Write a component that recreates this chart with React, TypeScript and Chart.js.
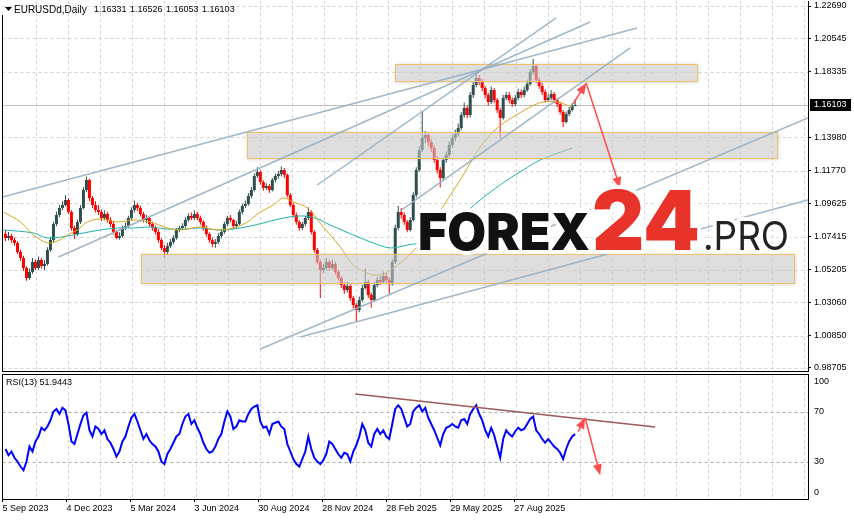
import React, { useEffect, useRef } from 'react';
import { Chart, registerables } from 'chart.js';

Chart.register(...registerables);

// ---------------- data ----------------
// one candle per 3 trading days; x unit = 1 trading day
const BAR_STEP = 3;
const FIRST_OPEN = 1.0760;
const CLOSE = [
  1.0732,1.0745,1.0719,1.0699,1.0639,1.0599,1.0533,1.0467,1.0507,1.0573,
  1.0533,1.0586,1.0546,1.0560,1.0652,1.0719,1.0825,1.0884,1.0931,1.0951,
  1.0984,1.0904,1.0798,1.0758,1.0838,1.0931,1.1050,1.1116,1.0997,1.0951,
  1.0917,1.0904,1.0864,1.0891,1.0851,1.0825,1.0772,1.0732,1.0745,1.0798,
  1.0811,1.0864,1.0917,1.0951,1.0931,1.0891,1.0851,1.0864,1.0825,1.0798,
  1.0772,1.0719,1.0666,1.0639,1.0679,1.0705,1.0732,1.0785,1.0798,1.0811,
  1.0851,1.0878,1.0864,1.0891,1.0864,1.0838,1.0798,1.0758,1.0719,1.0692,
  1.0705,1.0745,1.0772,1.0825,1.0864,1.0851,1.0811,1.0825,1.0904,1.0944,
  1.0957,1.1010,1.1050,1.1143,1.1169,1.1103,1.1063,1.1076,1.1050,1.1116,
  1.1143,1.1156,1.1182,1.1149,1.1017,1.0951,1.0884,1.0838,1.0798,1.0825,
  1.0864,1.0904,1.0772,1.0652,1.0573,1.0520,1.0533,1.0573,1.0533,1.0560,
  1.0507,1.0467,1.0420,1.0387,1.0414,1.0334,1.0288,1.0255,1.0321,1.0401,
  1.0440,1.0354,1.0321,1.0420,1.0454,1.0440,1.0480,1.0454,1.0427,1.0573,
  1.0798,1.0904,1.0884,1.0838,1.0785,1.0851,1.1017,1.1182,1.1315,1.1394,
  1.1414,1.1368,1.1328,1.1249,1.1182,1.1129,1.1249,1.1282,1.1348,1.1394,
  1.1421,1.1461,1.1547,1.1593,1.1547,1.1679,1.1746,1.1792,1.1766,1.1726,
  1.1679,1.1633,1.1713,1.1646,1.1580,1.1527,1.1660,1.1679,1.1646,1.1620,
  1.1660,1.1699,1.1679,1.1713,1.1752,1.1832,1.1872,1.1779,1.1739,1.1699,
  1.1646,1.1660,1.1686,1.1646,1.1620,1.1567,1.1500,1.1553,1.1580,1.1606,
  1.1610,
];
const HIGH = [
  1.0785,1.0772,1.0760,1.0735,1.0710,1.0655,1.0615,1.0545,1.0530,1.0600,
  1.0590,1.0610,1.0600,1.0585,1.0670,1.0740,1.0840,1.0905,1.0950,1.0975,
  1.1017,1.0995,1.0915,1.0815,1.0855,1.0950,1.1070,1.1139,1.1125,1.1010,
  1.0975,1.0950,1.0920,1.0915,1.0905,1.0870,1.0840,1.0785,1.0770,1.0815,
  1.0835,1.0880,1.0935,1.0980,1.0965,1.0945,1.0905,1.0885,1.0880,1.0840,
  1.0815,1.0790,1.0730,1.0685,1.0700,1.0725,1.0750,1.0800,1.0815,1.0830,
  1.0870,1.0895,1.0900,1.0915,1.0905,1.0880,1.0850,1.0815,1.0770,1.0735,
  1.0725,1.0765,1.0790,1.0840,1.0880,1.0885,1.0860,1.0845,1.0920,1.0960,
  1.0980,1.1030,1.1070,1.1160,1.1200,1.1180,1.1115,1.1095,1.1090,1.1130,
  1.1160,1.1175,1.1205,1.1195,1.1160,1.1030,1.0965,1.0900,1.0850,1.0840,
  1.0880,1.0935,1.0915,1.0785,1.0665,1.0590,1.0560,1.0600,1.0590,1.0590,
  1.0575,1.0520,1.0480,1.0440,1.0440,1.0425,1.0350,1.0300,1.0345,1.0420,
  1.0530,1.0455,1.0370,1.0440,1.0475,1.0480,1.0510,1.0500,1.0470,1.0590,
  1.0820,1.0945,1.0930,1.0900,1.0850,1.0870,1.1035,1.1200,1.1340,1.1573,
  1.1440,1.1430,1.1390,1.1345,1.1270,1.1200,1.1265,1.1305,1.1370,1.1415,
  1.1450,1.1490,1.1565,1.1630,1.1610,1.1700,1.1765,1.1830,1.1810,1.1785,
  1.1740,1.1695,1.1735,1.1725,1.1660,1.1595,1.1680,1.1700,1.1700,1.1665,
  1.1680,1.1720,1.1715,1.1735,1.1780,1.1850,1.1918,1.1885,1.1795,1.1760,
  1.1715,1.1685,1.1710,1.1700,1.1660,1.1635,1.1580,1.1570,1.1600,1.1625,
  1.1653,
];
const LOW = [
  1.0712,1.0715,1.0700,1.0680,1.0625,1.0580,1.0515,1.0448,1.0455,1.0495,
  1.0520,1.0520,1.0530,1.0520,1.0550,1.0640,1.0705,1.0810,1.0870,1.0915,
  1.0940,1.0890,1.0780,1.0724,1.0745,1.0825,1.0920,1.1035,1.0975,1.0930,
  1.0900,1.0885,1.0845,1.0850,1.0835,1.0805,1.0755,1.0723,1.0720,1.0735,
  1.0785,1.0800,1.0850,1.0900,1.0910,1.0875,1.0835,1.0830,1.0810,1.0780,
  1.0755,1.0700,1.0650,1.0601,1.0620,1.0665,1.0690,1.0720,1.0770,1.0785,
  1.0800,1.0840,1.0850,1.0850,1.0850,1.0820,1.0780,1.0740,1.0700,1.0670,
  1.0668,1.0690,1.0730,1.0760,1.0810,1.0835,1.0795,1.0795,1.0815,1.0890,
  1.0930,1.0945,1.0995,1.1040,1.1130,1.1085,1.1045,1.1050,1.1030,1.1040,
  1.1100,1.1125,1.1140,1.1130,1.1000,1.0935,1.0870,1.0820,1.0780,1.0785,
  1.0810,1.0850,1.0755,1.0635,1.0560,1.0335,1.0500,1.0515,1.0515,1.0520,
  1.0490,1.0450,1.0400,1.0360,1.0370,1.0315,1.0265,1.0178,1.0240,1.0310,
  1.0390,1.0335,1.0270,1.0310,1.0405,1.0420,1.0430,1.0435,1.0360,1.0415,
  1.0560,1.0785,1.0860,1.0820,1.0770,1.0775,1.0840,1.1000,1.1170,1.1300,
  1.1360,1.1340,1.1300,1.1230,1.1160,1.1066,1.1115,1.1230,1.1265,1.1330,
  1.1375,1.1405,1.1445,1.1530,1.1525,1.1530,1.1660,1.1730,1.1745,1.1705,
  1.1660,1.1610,1.1620,1.1625,1.1560,1.1392,1.1515,1.1645,1.1625,1.1600,
  1.1605,1.1645,1.1660,1.1665,1.1700,1.1740,1.1815,1.1760,1.1720,1.1680,
  1.1630,1.1635,1.1645,1.1625,1.1600,1.1550,1.1468,1.1490,1.1540,1.1570,
  1.1605,
];
const RSI = [
  40,35,38,33,30,26,23,30,42,38,
  46,50,57,55,58,63,70,72,68,73,
  71,60,46,44,52,60,67,69,55,50,
  58,56,52,55,48,45,40,34,38,46,
  50,58,65,68,62,55,48,52,47,44,
  42,38,30,28,36,40,45,50,52,60,
  66,68,60,63,57,52,45,40,37,38,
  42,48,52,62,70,66,56,58,63,62,
  62,68,72,74,75,62,57,58,52,60,
  61,62,58,56,44,38,32,28,26,32,
  38,50,40,33,30,28,31,36,46,44,
  40,36,33,37,36,30,38,43,50,60,
  55,45,42,52,56,52,55,50,48,60,
  72,75,72,65,58,60,70,73,75,70,
  73,65,60,55,49,43,52,57,58,60,
  58,57,63,64,60,68,72,75,68,63,
  55,50,57,51,42,33,48,55,52,50,
  54,57,55,56,60,64,66,55,52,48,
  45,48,45,42,40,37,32,40,46,50,
  51.9,
];
const MA_FAST_X = [1,18,31,45,55,65,75,85,98,115,131,148,165,178,198,215,231,245,258,271,281,291,305,321,338,351,365,378,391,405,418,431,445,458,468,478,495,511,528,541,555,570];
const MA_FAST = [1.0904,1.0838,1.0752,1.0699,1.0712,1.0752,1.0785,1.0838,1.0858,1.0838,1.0851,1.0838,1.0798,1.0785,1.0805,1.0785,1.0798,1.0838,1.0904,1.0950,1.0997,1.0970,1.0931,1.0805,1.0672,1.0553,1.0500,1.0487,1.0533,1.0606,1.0699,1.0838,1.0984,1.1116,1.1229,1.1335,1.1461,1.1534,1.1600,1.1633,1.1633,1.1600];
const MA_SLOW_X = [1,31,45,65,81,98,115,131,148,165,181,198,215,231,248,265,281,298,313,328,351,371,388,405,421,435,455,478,505,521,538,570];
const MA_SLOW = [1.0785,1.0765,1.0732,1.0745,1.0765,1.0785,1.0798,1.0798,1.0805,1.0791,1.0791,1.0798,1.0785,1.0791,1.0811,1.0838,1.0864,1.0878,1.0864,1.0818,1.0752,1.0699,1.0666,1.0685,1.0705,1.0752,1.0851,1.0984,1.1116,1.1182,1.1249,1.1328];

const PRICE_TICKS = [1.2269, 1.20545, 1.18335, 1.1398, 1.1177, 1.09625, 1.07415, 1.05205, 1.0306, 1.0085, 0.98705];
const DATE_LABELS = ['5 Sep 2023', '4 Dec 2023', '5 Mar 2024', '3 Jun 2024', '30 Aug 2024', '28 Nov 2024', '28 Feb 2025', '29 May 2025', '27 Aug 2025'];
const DATE_TICK_STEP = 64;
const GRID_START = 2;
const GRID_STEP = 32;
const X_MAX = 806;
const Y_MIN = 0.98572;
const Y_MAX = 1.23022;
const LAST_PRICE = 1.16103;
const HEADER_SYMBOL = 'EURUSDd,Daily';
const HEADER_OHLC = ['1.16331', '1.16526', '1.16053', '1.16103'];
const RSI_TEXT = 'RSI(13) 51.9443';
const RSI_LEVELS = [70, 30];
const RSI_TICK_VALUES = [93.6, 70, 30, 5.2];
const RSI_AXIS_LABELS = ['100', '70', '30', '0'];
// zones: [xStart, xEnd, priceTop, priceBottom]
const ZONES = [
  [393, 695, 1.1885, 1.1772],
  [245, 775, 1.1434, 1.1262],
  [139, 792, 1.0626, 1.0434],
];
// trend lines: [x0, price0, x1, price1]
const TREND_LINES = [
  [0, 1.1004, 635, 1.2123],
  [56, 1.0606, 588, 1.2163],
  [315, 1.1083, 554, 1.2190],
  [258, 0.9996, 806, 1.1527],
  [298, 1.0076, 806, 1.0984],
  [398, 1.0911, 628, 1.1991],
];
const PRICE_ARROWS = [
  [571, 1.1620, 584, 1.1759],
  [584, 1.1759, 618, 1.1063],
];
const RSI_TREND = [353, 84, 653, 57.6];
const RSI_ARROWS = [
  [576, 54, 583, 65],
  [583, 65, 598, 19],
];
const WATERMARK = ['FOREX', '24', '.PRO'];

// ---------------- styles ----------------
const FONT = '"Liberation Sans", Arial, sans-serif';
const BULL = '#2f4f4f';
const BEAR = '#ff0000';
const GRID = '#d4d4d4';
const ZONE_FILL = 'rgba(200,200,200,0.6)';
const ZONE_EDGE = '#f0c068';
const TREND = 'rgba(150,175,195,0.9)';
const ARROW = '#ff4b4b';

function drawArrow(ctx: CanvasRenderingContext2D, x0: number, y0: number, x1: number, y1: number, color: string) {
  const ang = Math.atan2(y1 - y0, x1 - x0);
  const L = 11, W = 4.5;
  ctx.strokeStyle = color;
  ctx.fillStyle = color;
  ctx.lineWidth = 1.5;
  ctx.beginPath();
  ctx.moveTo(x0, y0);
  ctx.lineTo(x1 - Math.cos(ang) * (L - 2), y1 - Math.sin(ang) * (L - 2));
  ctx.stroke();
  const bx = x1 - Math.cos(ang) * L, by = y1 - Math.sin(ang) * L;
  ctx.beginPath();
  ctx.moveTo(x1, y1);
  ctx.lineTo(bx + Math.sin(ang) * W, by - Math.cos(ang) * W);
  ctx.lineTo(bx - Math.sin(ang) * W, by + Math.cos(ang) * W);
  ctx.closePath();
  ctx.fill();
}

function clipArea(ctx: CanvasRenderingContext2D, a: any) {
  ctx.beginPath();
  ctx.rect(a.left, a.top, a.right - a.left, a.bottom - a.top);
  ctx.clip();
}

function drawWatermark(ctx: CanvasRenderingContext2D) {
  const parts = [
    { text: WATERMARK[0], x: 418, w: 172, font: '900 51px Inter, "Open Sans", sans-serif', color: '#111111' },
    { text: WATERMARK[1], x: 592, w: 108, font: '900 82px Inter, "Open Sans", sans-serif', color: '#e8332b' },
    { text: WATERMARK[2], x: 703, w: 86, font: '400 39px Inter, "Open Sans", sans-serif', color: '#222222' },
  ];
  const base = 250;
  for (const pass of [0, 1]) {
    for (const p of parts) {
      ctx.save();
      ctx.font = p.font;
      const m = ctx.measureText(p.text).width;
      ctx.translate(p.x, base);
      ctx.scale(p.w / m, 1);
      if (pass === 0) {
        ctx.strokeStyle = 'rgba(255,255,255,0.95)';
        ctx.lineWidth = 8;
        ctx.lineJoin = 'round';
        ctx.strokeText(p.text, 0, 0);
      } else {
        ctx.fillStyle = p.color;
        ctx.fillText(p.text, 0, 0);
      }
      ctx.restore();
    }
  }
}

const noPad = (s: any) => {
  s.paddingTop = 0;
  s.paddingBottom = 0;
  s.paddingLeft = 0;
  s.paddingRight = 0;
};

const mainDecor = {
  id: 'mainDecor',
  beforeDatasetsDraw(chart: any) {
    const { ctx, chartArea: a, scales: { x, y } } = chart;
    ctx.save();
    clipArea(ctx, a);
    ctx.strokeStyle = GRID;
    ctx.lineWidth = 1;
    ctx.setLineDash([3, 3]);
    ctx.beginPath();
    for (const t of PRICE_TICKS) {
      const yy = Math.round(y.getPixelForValue(t)) + 0.5;
      ctx.moveTo(a.left, yy);
      ctx.lineTo(a.right, yy);
    }
    for (let v = GRID_START + GRID_STEP; v < X_MAX; v += GRID_STEP) {
      const xx = Math.round(x.getPixelForValue(v)) + 0.5;
      ctx.moveTo(xx, a.top);
      ctx.lineTo(xx, a.bottom);
    }
    ctx.stroke();
    ctx.setLineDash([]);
    const by = Math.round(y.getPixelForValue(LAST_PRICE)) + 0.5;
    ctx.strokeStyle = '#c0c0c0';
    ctx.beginPath();
    ctx.moveTo(a.left, by);
    ctx.lineTo(a.right, by);
    ctx.stroke();
    ctx.restore();
  },
  afterDatasetsDraw(chart: any) {
    const { ctx, chartArea: a, scales: { x, y } } = chart;
    ctx.save();
    clipArea(ctx, a);
    for (const [x0, x1, p0, p1] of ZONES) {
      const l = Math.round(x.getPixelForValue(x0)) + 0.5;
      const r = Math.round(x.getPixelForValue(x1)) + 0.5;
      const t = Math.round(y.getPixelForValue(p0)) + 0.5;
      const b = Math.round(y.getPixelForValue(p1)) + 0.5;
      // soft glow outside the box only
      ctx.save();
      ctx.beginPath();
      ctx.rect(a.left, a.top, a.right - a.left, a.bottom - a.top);
      ctx.rect(l, t, r - l, b - t);
      ctx.clip('evenodd');
      ctx.shadowColor = 'rgba(150,150,150,0.55)';
      ctx.shadowBlur = 4;
      ctx.fillStyle = '#d0d0d0';
      ctx.fillRect(l, t, r - l, b - t);
      ctx.restore();
      ctx.fillStyle = ZONE_FILL;
      ctx.fillRect(l, t, r - l, b - t);
      ctx.strokeStyle = ZONE_EDGE;
      ctx.lineWidth = 1;
      ctx.strokeRect(l, t, r - l, b - t);
    }
    ctx.strokeStyle = TREND;
    ctx.lineWidth = 1.5;
    for (const [x0, p0, x1, p1] of TREND_LINES) {
      ctx.beginPath();
      ctx.moveTo(x.getPixelForValue(x0), y.getPixelForValue(p0));
      ctx.lineTo(x.getPixelForValue(x1), y.getPixelForValue(p1));
      ctx.stroke();
    }
    for (const [x0, p0, x1, p1] of PRICE_ARROWS) {
      drawArrow(ctx, x.getPixelForValue(x0), y.getPixelForValue(p0), x.getPixelForValue(x1), y.getPixelForValue(p1), ARROW);
    }
    ctx.restore();
    ctx.save();
    drawWatermark(ctx);
    ctx.restore();
  },
  afterDraw(chart: any) {
    const { ctx, scales: { y } } = chart;
    ctx.save();
    ctx.fillStyle = '#000';
    ctx.fillRect(2, 15, 1, 357);
    ctx.fillRect(2, 371, 807, 1);
    ctx.beginPath();
    ctx.moveTo(5, 7);
    ctx.lineTo(12, 7);
    ctx.lineTo(8.5, 11);
    ctx.closePath();
    ctx.fill();
    ctx.textBaseline = 'middle';
    ctx.font = '10px ' + FONT;
    ctx.fillText(HEADER_SYMBOL, 14, 10);
    ctx.font = '9px ' + FONT;
    let hx = 94;
    for (const s of HEADER_OHLC) {
      ctx.fillText(s, hx, 10);
      hx += ctx.measureText(s).width + 3.5;
    }
    const yy = Math.round(y.getPixelForValue(LAST_PRICE));
    ctx.fillStyle = '#000';
    ctx.fillRect(810, yy - 6, 41, 12);
    ctx.fillStyle = '#fff';
    ctx.fillText(LAST_PRICE.toFixed(5), 814, yy);
    ctx.restore();
  },
};

const rsiDecor = {
  id: 'rsiDecor',
  beforeDatasetsDraw(chart: any) {
    const { ctx, chartArea: a, scales: { x, y } } = chart;
    ctx.save();
    clipArea(ctx, a);
    ctx.lineWidth = 1;
    ctx.setLineDash([3, 3]);
    ctx.strokeStyle = GRID;
    ctx.beginPath();
    for (let v = GRID_START + GRID_STEP; v < X_MAX; v += GRID_STEP) {
      const xx = Math.round(x.getPixelForValue(v)) + 0.5;
      ctx.moveTo(xx, a.top);
      ctx.lineTo(xx, a.bottom);
    }
    ctx.stroke();
    ctx.strokeStyle = '#a8a8a8';
    ctx.beginPath();
    for (const lv of RSI_LEVELS) {
      const yy = Math.round(y.getPixelForValue(lv)) + 0.5;
      ctx.moveTo(a.left, yy);
      ctx.lineTo(a.right, yy);
    }
    ctx.stroke();
    ctx.restore();
  },
  afterDatasetsDraw(chart: any) {
    const { ctx, chartArea: a, scales: { x, y } } = chart;
    ctx.save();
    clipArea(ctx, a);
    ctx.strokeStyle = '#9a5a55';
    ctx.lineWidth = 1.5;
    ctx.beginPath();
    ctx.moveTo(x.getPixelForValue(RSI_TREND[0]), y.getPixelForValue(RSI_TREND[1]));
    ctx.lineTo(x.getPixelForValue(RSI_TREND[2]), y.getPixelForValue(RSI_TREND[3]));
    ctx.stroke();
    for (const [x0, v0, x1, v1] of RSI_ARROWS) {
      drawArrow(ctx, x.getPixelForValue(x0), y.getPixelForValue(v0), x.getPixelForValue(x1), y.getPixelForValue(v1), ARROW);
    }
    ctx.restore();
  },
  afterDraw(chart: any) {
    const { ctx, chartArea: a } = chart;
    ctx.save();
    ctx.fillStyle = '#000';
    ctx.fillRect(2, a.top, 1, a.bottom - a.top);
    ctx.fillRect(2, a.top, a.right - 2, 1);
    ctx.font = '9px ' + FONT;
    ctx.textBaseline = 'middle';
    ctx.fillText(RSI_TEXT, 6, 11);
    ctx.restore();
  },
};

export default function App() {
  const mainRef = useRef<HTMLCanvasElement>(null);
  const rsiRef = useRef<HTMLCanvasElement>(null);

  useEffect(() => {
    const xs = CLOSE.map((_, i) => (i + 1) * BAR_STEP);
    const opens = CLOSE.map((_, i) => (i === 0 ? FIRST_OPEN : CLOSE[i - 1]));
    const colors = CLOSE.map((c, i) => (c >= opens[i] ? BULL : BEAR));
    const bodies = xs.map((x, i) => ({ x, y: [opens[i], CLOSE[i]] }));
    const wicks = xs.map((x, i) => ({ x, y: [LOW[i], HIGH[i]] }));
    const fast = MA_FAST_X.map((x, i) => ({ x, y: MA_FAST[i] }));
    const slow = MA_SLOW_X.map((x, i) => ({ x, y: MA_SLOW[i] }));
    const rsiPts = RSI.map((v, i) => ({ x: xs[i], y: v }));
    const tickFont = { family: FONT, size: 9 };

    const main = new Chart(mainRef.current as HTMLCanvasElement, {
      type: 'bar',
      data: {
        datasets: [
          { type: 'line', data: fast, borderColor: '#daa520', borderWidth: 1, pointRadius: 0, tension: 0.35, order: 0 } as any,
          { type: 'line', data: slow, borderColor: '#20b2aa', borderWidth: 1, pointRadius: 0, tension: 0.35, order: 1 } as any,
          { type: 'bar', data: bodies, backgroundColor: colors, barThickness: 3, grouped: false, inflateAmount: 0, borderWidth: 0, minBarLength: 1, order: 2 } as any,
          { type: 'bar', data: wicks, backgroundColor: colors, barThickness: 1, grouped: false, inflateAmount: 0, borderWidth: 0, order: 3 } as any,
        ],
      },
      options: {
        responsive: false,
        animation: false,
        devicePixelRatio: 1,
        events: [],
        layout: { padding: { left: 2.5, top: 1, right: 0, bottom: 2 } },
        plugins: { legend: { display: false }, tooltip: { enabled: false } },
        scales: {
          x: { type: 'linear', min: 0, max: X_MAX, offset: false, display: false },
          y: {
            type: 'linear',
            position: 'right',
            min: Y_MIN,
            max: Y_MAX,
            afterFit: (s: any) => { s.width = 46; noPad(s); },
            afterBuildTicks: (s: any) => { s.ticks = PRICE_TICKS.map((v) => ({ value: v })); },
            ticks: { callback: (v: any) => Number(v).toFixed(5), color: '#000', font: tickFont, padding: 3, autoSkip: false },
            grid: { drawOnChartArea: false, drawTicks: true, tickLength: 3, color: '#000' },
            border: { display: true, color: '#000' },
          },
        },
      } as any,
      plugins: [mainDecor],
    });

    const rsi = new Chart(rsiRef.current as HTMLCanvasElement, {
      type: 'line',
      data: {
        datasets: [
          { data: rsiPts, borderColor: '#0000ff', borderWidth: 2, pointRadius: 0, tension: 0 } as any,
        ],
      },
      options: {
        responsive: false,
        animation: false,
        devicePixelRatio: 1,
        events: [],
        layout: { padding: { left: 2.5, top: 2, right: 0, bottom: 0 } },
        plugins: { legend: { display: false }, tooltip: { enabled: false } },
        scales: {
          x: {
            type: 'linear',
            min: 0,
            max: X_MAX,
            afterFit: (s: any) => { s.height = 21; noPad(s); },
            afterBuildTicks: (s: any) => { s.ticks = DATE_LABELS.map((_, i) => ({ value: i * DATE_TICK_STEP })); },
            ticks: { callback: (_v: any, i: number) => DATE_LABELS[i], align: 'start', maxRotation: 0, autoSkip: false, padding: 1, color: '#000', font: tickFont },
            grid: { drawOnChartArea: false, tickLength: 3, color: '#000' },
            border: { display: true, color: '#000' },
          },
          y: {
            type: 'linear',
            position: 'right',
            min: 0,
            max: 100,
            afterFit: (s: any) => { s.width = 46; noPad(s); },
            afterBuildTicks: (s: any) => { s.ticks = RSI_TICK_VALUES.map((v) => ({ value: v })); },
            ticks: { callback: (_v: any, i: number) => RSI_AXIS_LABELS[i], padding: 6, color: '#000', font: tickFont, autoSkip: false },
            grid: { drawOnChartArea: false, drawTicks: false },
            border: { display: true, color: '#000' },
          },
        },
      } as any,
      plugins: [rsiDecor],
    });

    return () => {
      main.destroy();
      rsi.destroy();
    };
  }, []);

  return (
    <div style={{ position: 'fixed', left: 0, top: 0, width: 854, height: 520, background: '#fff' }}>
      <canvas ref={mainRef} width={854} height={372} style={{ position: 'absolute', left: 0, top: 0, display: 'block' }} />
      <canvas ref={rsiRef} width={854} height={148} style={{ position: 'absolute', left: 0, top: 372, display: 'block' }} />
    </div>
  );
}
